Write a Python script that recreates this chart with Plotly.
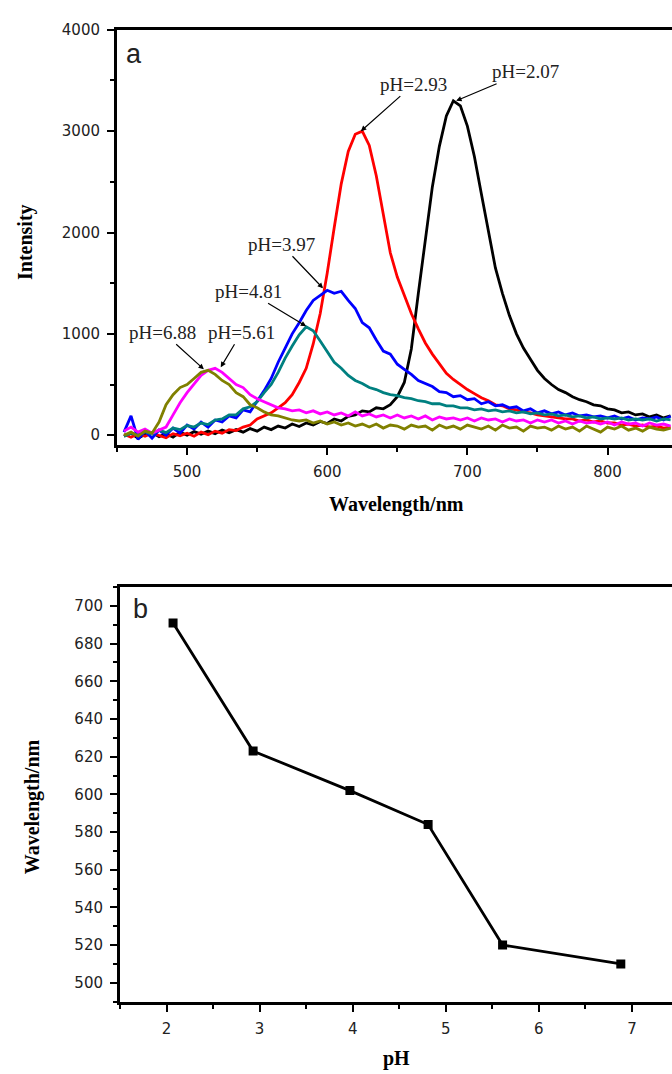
import plotly.graph_objects as go

FIG_W, FIG_H = 672, 1074

# ---------------- data: panel a (emission spectra) ----------------
wavelength = list(range(455, 850, 5))  # nm, 455..845

int_ph207 = [-10, 20, -30, 10, 25, -15, 15, -20, 30, 0,
             35, 10, 40, 15, 50, 25, 55, 30, 65, 40,
             80, 55, 90, 70, 110, 85, 120, 100, 135, 115,
             160, 140, 185, 200, 240, 230, 270, 260, 300, 380,
             520, 850, 1400, 1950, 2450, 2850, 3150, 3300, 3250, 3050,
             2750, 2380, 2000, 1650, 1400, 1180, 1000, 860, 750, 640,
             560, 500, 450, 420, 380, 350, 330, 300, 290, 260,
             250, 220, 230, 200, 210, 180, 200, 170, 190]

int_ph293 = [10, -20, 15, -10, 20, 0, -25, 15, -5, 20,
             -10, 30, 5, 40, 20, 55, 45, 80, 100, 160,
             190, 220, 270, 320, 400, 520, 660, 900, 1200, 1600,
             2050, 2480, 2800, 2970, 3000, 2860, 2560, 2180, 1800, 1560,
             1380, 1200, 1050, 910, 800, 700, 610, 550, 500, 450,
             410, 370, 340, 300, 290, 260, 250, 230, 220, 200,
             190, 180, 170, 160, 160, 140, 150, 130, 140, 120,
             120, 100, 110, 90, 100, 80, 90, 70, 80]

int_ph397 = [30, 190, -40, 40, -30, 50, 0, 70, 20, 100,
             60, 130, 80, 150, 130, 190, 170, 250, 230, 330,
             440, 560, 720, 860, 1000, 1110, 1230, 1330, 1380, 1430,
             1400, 1420, 1330, 1250, 1110, 1060, 940, 830, 800, 700,
             650, 600, 540, 510, 480, 430, 420, 380, 390, 350,
             360, 310, 330, 290, 300, 270, 280, 240, 260, 220,
             240, 210, 230, 200, 220, 190, 200, 180, 190, 170,
             190, 160, 180, 150, 170, 160, 180, 150, 190]

int_ph481 = [-10, 20, 0, 35, 10, 50, 25, 70, 55, 95,
             80, 120, 105, 150, 160, 200, 200, 260, 280, 330,
             420, 500, 620, 760, 880, 990, 1070, 1030, 930, 820,
             720, 660, 590, 540, 510, 470, 450, 420, 400, 390,
             370, 360, 340, 330, 310, 310, 290, 290, 270, 270,
             250, 260, 240, 250, 230, 240, 220, 230, 210, 220,
             200, 210, 190, 200, 180, 190, 170, 180, 160, 170,
             160, 170, 150, 160, 150, 160, 140, 160, 150]

int_ph561 = [40, 80, 30, 60, 20, 50, 80, 200, 320, 420,
             510, 590, 640, 660, 620, 560, 500, 470, 400, 360,
             330, 300, 270, 260, 240, 250, 220, 240, 210, 230,
             200, 220, 190, 230, 190, 210, 180, 200, 170, 200,
             170, 190, 160, 190, 150, 180, 160, 170, 150, 170,
             140, 170, 150, 160, 130, 160, 140, 150, 120, 150,
             130, 150, 120, 140, 110, 140, 120, 130, 110, 130,
             100, 130, 110, 120, 90, 120, 100, 110, 90]

int_ph688 = [0, 30, -10, 40, 20, 130, 300, 400, 470, 500,
             560, 620, 640, 600, 540, 500, 420, 380, 300, 270,
             230, 200, 190, 170, 150, 140, 150, 120, 140, 110,
             130, 100, 120, 90, 110, 80, 110, 70, 100, 90,
             60, 100, 80, 90, 50, 100, 70, 90, 60, 100,
             80, 60, 90, 50, 100, 70, 80, 40, 90, 70,
             80, 50, 90, 60, 80, 40, 90, 60, 30, 80,
             60, 90, 50, 70, 40, 80, 60, 50, 70]

spectra_labels = ["pH=2.07", "pH=2.93", "pH=3.97", "pH=4.81", "pH=5.61", "pH=6.88"]
spectra_colors = ["#000000", "#FF0000", "#0000FF", "#008080", "#FF00FF", "#808000"]
spectra_values = [int_ph207, int_ph293, int_ph397, int_ph481, int_ph561, int_ph688]

# peak positions used for the arrow annotations (nm, intensity)
peak_nm = [692, 624, 597, 585, 524, 512]
peak_int = [3300, 3000, 1450, 1075, 670, 650]

# ---------------- data: panel b (peak wavelength vs pH) ----------------
ph_values = [2.07, 2.93, 3.97, 4.81, 5.61, 6.88]
peak_wavelength = [691, 623, 602, 584, 520, 510]


def px_x(p):
    return p / FIG_W


def px_y(p):
    return 1 - p / FIG_H


fig = go.Figure()

for lab, col, vals in zip(spectra_labels, spectra_colors, spectra_values):
    fig.add_trace(go.Scatter(x=wavelength, y=vals, mode="lines", name=lab,
                             line=dict(color=col, width=2.8),
                             xaxis="x", yaxis="y", showlegend=False))

fig.add_trace(go.Scatter(x=ph_values, y=peak_wavelength, mode="lines+markers",
                         line=dict(color="black", width=2.8),
                         marker=dict(symbol="square", size=9, color="black"),
                         xaxis="x2", yaxis="y2", showlegend=False))

tickfont = dict(family="DejaVu Sans", size=15, color="#222222")
common = dict(showgrid=False, zeroline=False, showline=True, linecolor="black",
              linewidth=3, ticks="outside", ticklen=7, tickwidth=2,
              tickcolor="black", tickfont=tickfont, ticklabelstandoff=4)

fig.update_layout(
    width=FIG_W, height=FIG_H,
    margin=dict(l=0, r=0, t=0, b=0),
    paper_bgcolor="white", plot_bgcolor="white",
    xaxis=dict(domain=[px_x(117), 1], range=[450, 846], anchor="y",
               dtick=100, tick0=0, mirror=True,
               minor=dict(dtick=50, tick0=0, ticks="outside", ticklen=4,
                          tickwidth=2, tickcolor="black"), **common),
    yaxis=dict(domain=[px_y(440), px_y(21)], range=[-100, 4000], anchor="x",
               dtick=1000, tick0=0,
               minor=dict(dtick=500, tick0=0, ticks="outside", ticklen=4,
                          tickwidth=2, tickcolor="black"), **common),
    xaxis2=dict(domain=[px_x(120), 1], range=[1.5, 7.43], anchor="y2",
                dtick=1, tick0=0, mirror=True,
                minor=dict(dtick=0.5, tick0=0, ticks="outside", ticklen=4,
                           tickwidth=2, tickcolor="black"), **common),
    yaxis2=dict(domain=[px_y(1001), px_y(583)], range=[490, 710], anchor="x2",
                dtick=20, tick0=0,
                minor=dict(dtick=10, tick0=0, ticks="outside", ticklen=4,
                           tickwidth=2, tickcolor="black"), **common),
)

title_font = dict(family="Liberation Serif", size=20, color="black")
ann = [
    dict(text="<b>Intensity</b>", x=px_x(25), y=px_y(235), textangle=-90),
    dict(text="<b>Wavelength/nm</b>", x=px_x(396), y=px_y(500)),
    dict(text="<b>Wavelength/nm</b>", x=px_x(32), y=px_y(805), textangle=-90),
    dict(text="<b>pH</b>", x=px_x(396), y=px_y(1058)),
]
for a in ann:
    fig.add_annotation(xref="paper", yref="paper", showarrow=False,
                       xanchor="center", yanchor="middle", font=title_font, **a)

panel_font = dict(family="Liberation Sans", size=27, color="#222222")
fig.add_annotation(text="a", x=px_x(134), y=px_y(45), xref="paper", yref="paper",
                   xanchor="center", yanchor="middle",
                   showarrow=False, font=panel_font)
fig.add_annotation(text="b", x=px_x(140), y=px_y(605), xref="paper", yref="paper",
                   xanchor="center", yanchor="middle",
                   showarrow=False, font=panel_font)

# arrow label offsets (pixels, text relative to tip)
offsets = [(69, -29), (53, -47), (-42, -44), (-58, -35), (21, -35), (-41, -37)]
lab_font = dict(family="Liberation Serif", size=19, color="#222222")
for lab, xnm, yint, (ax, ay) in zip(spectra_labels, peak_nm, peak_int, offsets):
    fig.add_annotation(text=lab, x=xnm, y=yint, xref="x", yref="y",
                       ax=ax, ay=ay, showarrow=True, arrowhead=2,
                       arrowsize=0.9, arrowwidth=1.2, arrowcolor="black",
                       font=lab_font)

fig.write_html("out.html",
               config={"displayModeBar": False},
               post_script="document.body.style.margin='0px';"
                           "document.body.style.overflow='hidden';")
